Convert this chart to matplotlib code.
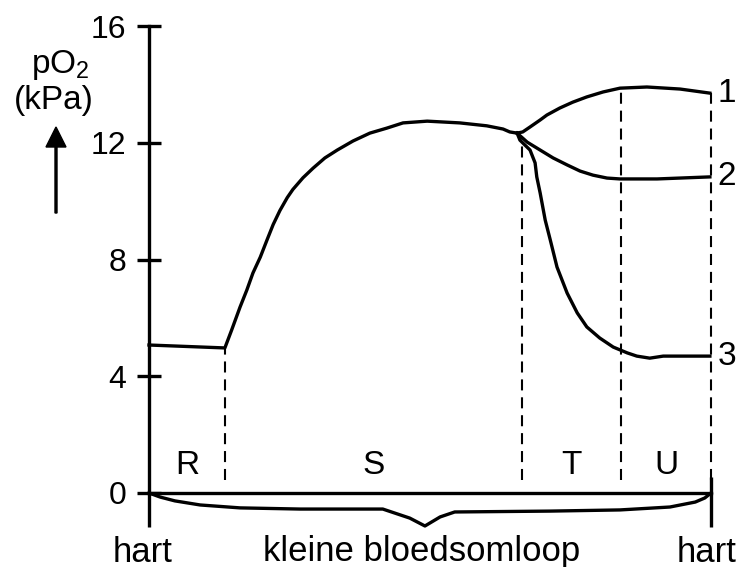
import matplotlib
matplotlib.use("Agg")
import matplotlib.pyplot as plt

plt.rcParams['font.family'] = ['Liberation Sans', 'DejaVu Sans']
plt.rcParams['mathtext.fontset'] = 'custom'
plt.rcParams['mathtext.rm'] = 'Liberation Sans'
plt.rcParams['mathtext.it'] = 'Liberation Sans'

# shared part of the curve (heart -> start of T)
main_x = [0, 13.5, 14.7, 16.2, 17.4, 18.5, 19.8, 21.0, 22.1, 23.3, 24.6, 25.6, 27.4, 29.2, 31.3,
          33.5, 36.3, 39.3, 42.3, 45.2, 49.5, 55.3, 60.1, 63.0, 64.2, 65.5]
main_y = [5.07, 4.97, 5.58, 6.37, 6.95, 7.54, 8.08, 8.67, 9.20, 9.68, 10.12, 10.40, 10.80, 11.13, 11.48,
          11.75, 12.06, 12.33, 12.50, 12.68, 12.74, 12.68, 12.58, 12.47, 12.37, 12.33]

# the three branches
b1_x = [65.5, 66.5, 67.8, 69.6, 70.8, 73.1, 75.4, 77.9, 80.8, 83.8, 88.6, 94.5, 99.8]
b1_y = [12.33, 12.37, 12.54, 12.78, 12.95, 13.19, 13.39, 13.57, 13.74, 13.87, 13.91, 13.84, 13.70]
b2_x = [65.5, 67.3, 69.6, 71.9, 74.4, 76.7, 79.0, 81.5, 83.8, 90.4, 99.8]
b2_y = [12.33, 12.02, 11.75, 11.48, 11.24, 11.03, 10.89, 10.79, 10.76, 10.76, 10.83]
b3_x = [65.5, 66.0, 67.8, 68.7, 69.0, 69.6, 70.5, 71.4, 72.6, 74.4, 76.2, 77.9, 80.2, 82.6, 85.1,
        86.8, 89.1, 91.5, 99.8]
b3_y = [12.33, 12.09, 11.75, 11.31, 10.83, 10.28, 9.35, 8.67, 7.74, 6.85, 6.17, 5.69, 5.31, 5.00, 4.80,
        4.69, 4.62, 4.69, 4.69]
branch_labels = ['1', '2', '3']

# section borders and names
borders = [0, 13.5, 66.4, 84.0, 100]
border_tops = [5.07, 4.97, 12.2, 13.87, 13.7]
sections = ['R', 'S', 'T', 'U']

# brace under the axis
brace_x = [0, 2.0, 4.6, 9.1, 16.2, 26.9, 41.6, 46.4, 49.1, 51.8, 54.4, 71.4, 83.8, 92.7, 97.2, 98.9, 100]
brace_y = [0, -0.14, -0.27, -0.41, -0.51, -0.55, -0.55, -0.86, -1.13, -0.82, -0.65, -0.62, -0.58,
           -0.48, -0.31, -0.17, 0]

yticks = [0, 4, 8, 12, 16]

fig = plt.figure(figsize=(7.39, 5.67), dpi=100)
ax = fig.add_axes([149 / 739, (567 - 493) / 567, 562 / 739, 467 / 567])
ax.set_xlim(0, 100)
ax.set_ylim(0, 16)

lw = 2.4
ax.plot(main_x, main_y, color='black', lw=lw, clip_on=False, solid_joinstyle='round')
for bx, by, lab in zip([b1_x, b2_x, b3_x], [b1_y, b2_y, b3_y], branch_labels):
    ax.plot(bx, by, color='black', lw=lw, clip_on=False, solid_joinstyle='round')
    ax.text(101.2, by[-1], lab, fontsize=24, ha='left', va='center')

# dashed borders
for x, top in zip(borders[1:], border_tops[1:]):
    ax.plot([x, x], [0.45, top], color='black', lw=1.5, ls=(0, (5.3, 3.3)), clip_on=False)

for i, s in enumerate(sections):
    ax.text((borders[i] + borders[i + 1]) / 2, 0.95, s, fontsize=24, ha='center', va='center')

# axes
for sp in ['top', 'right', 'bottom']:
    ax.spines[sp].set_visible(False)
ax.spines['left'].set_linewidth(lw)
ax.plot([0, 100], [0, 0], color='black', lw=lw, clip_on=False)
ax.plot([0, 0], [-1.15, 0], color='black', lw=lw, clip_on=False, solid_capstyle='butt')
ax.plot([100, 100], [-1.15, 0.55], color='black', lw=lw, clip_on=False, solid_capstyle='butt')
ax.plot(brace_x, brace_y, color='black', lw=lw, clip_on=False, solid_joinstyle='round')

ax.set_xticks([])
ax.set_yticks(yticks)
ax.set_yticklabels([str(t) for t in yticks], fontsize=23)
ax.tick_params(axis='y', direction='inout', length=16.6, width=lw, pad=8)

# bottom labels
fig.text(143 / 739, 1 - 552 / 567, 'hart', fontsize=25, ha='center', va='center')
fig.text(422 / 739, 1 - 552 / 567, 'kleine bloedsomloop', fontsize=25, ha='center', va='center')
fig.text(707 / 739, 1 - 552 / 567, 'hart', fontsize=25, ha='center', va='center')

# y label with arrow
fig.text(60 / 739, 1 - 65 / 567, r'pO$_2$', fontsize=24, ha='center', va='center')
fig.text(54 / 739, 1 - 100 / 567, '(kPa)', fontsize=24, ha='center', va='center')
fig.add_artist(matplotlib.patches.FancyArrow(56 / 739, 1 - 213 / 567, 0, (213 - 127) / 567,
                                             width=2 / 739, head_width=20 / 739, head_length=20 / 567,
                                             length_includes_head=True, color='black',
                                             transform=fig.transFigure))

fig.savefig('out.png', dpi=100)
